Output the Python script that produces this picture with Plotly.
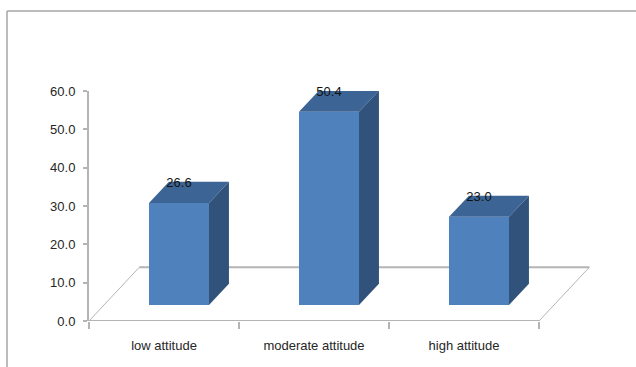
import plotly.graph_objects as go

# Survey result: share of respondents per attitude level
categories = ["low attitude", "moderate attitude", "high attitude"]
values = [26.6, 50.4, 23.0]
value_ticks = [0, 10, 20, 30, 40, 50, 60]

FRONT = "#4f81bd"
TOP = "#3c6595"
SIDE = "#31527b"
AXIS = "#b4b4b4"
FRAME = "#a6a6a6"
TEXT = "#262626"
FONT = "Liberation Sans, sans-serif"

# Pseudo-3D geometry in axis units (one category = 1 on x, value scale on y)
BAR_WIDTH = 0.4
BAR_SHIFT = 0.1
BAR_BASE = 4.2
DEPTH_X = 0.133
DEPTH_Y = 5.5
FLOOR_X = 0.335
FLOOR_Y = 14.0

# Plot area in pixels
WIDTH, HEIGHT = 636, 367
LEFT, TOP_M, PLOT_W, PLOT_H = 89, 91, 507, 230
X_MIN = -0.5
X_MAX = X_MIN + PLOT_W / 150

positions = list(range(len(categories)))
centers = [p + BAR_SHIFT for p in positions]
boundaries = [p - 0.5 for p in positions] + [positions[-1] + 0.5]

fig = go.Figure()

# Front faces
fig.add_trace(go.Bar(
    x=centers, y=values, base=BAR_BASE, width=BAR_WIDTH,
    marker=dict(color=FRONT, line=dict(width=0)), hoverinfo="skip",
))

# Top and side faces, derived from each bar's value
for c, v in zip(centers, values):
    x0, x1 = c - BAR_WIDTH / 2, c + BAR_WIDTH / 2
    y0, y1 = BAR_BASE, BAR_BASE + v
    fig.add_trace(go.Scatter(
        x=[x0, x0 + DEPTH_X, x1 + DEPTH_X, x1, x0],
        y=[y1, y1 + DEPTH_Y, y1 + DEPTH_Y, y1, y1],
        mode="lines", fill="toself", fillcolor=TOP,
        line=dict(width=0), hoverinfo="skip",
    ))
    fig.add_trace(go.Scatter(
        x=[x1, x1 + DEPTH_X, x1 + DEPTH_X, x1, x1],
        y=[y1, y1 + DEPTH_Y, y0 + DEPTH_Y, y0, y1],
        mode="lines", fill="toself", fillcolor=SIDE,
        line=dict(width=0), hoverinfo="skip",
    ))

# Front edge of the floor, doubling as the category axis line
fig.add_trace(go.Scatter(
    x=[boundaries[0], boundaries[-1]], y=[0, 0], mode="lines",
    line=dict(color=AXIS, width=2), cliponaxis=False, hoverinfo="skip",
))

# Value labels sitting on the top faces
fig.add_trace(go.Scatter(
    x=centers, y=[v + BAR_BASE + 5.0 for v in values],
    mode="text", text=[f"{v:.1f}" for v in values],
    textposition="middle center",
    textfont=dict(family=FONT, size=13, color="#111111"),
    cliponaxis=False, hoverinfo="skip",
))

# Floor edges behind the bars
floor_shapes = [
    dict(type="line", layer="below", xref="x", yref="y",
         x0=boundaries[0], y0=0, x1=boundaries[0] + FLOOR_X, y1=FLOOR_Y,
         line=dict(color=AXIS, width=1)),
    dict(type="line", layer="below", xref="x", yref="y",
         x0=boundaries[0] + FLOOR_X, y0=FLOOR_Y, x1=boundaries[-1] + FLOOR_X, y1=FLOOR_Y,
         line=dict(color=AXIS, width=2)),
    dict(type="line", layer="below", xref="x", yref="y",
         x0=boundaries[-1], y0=0, x1=boundaries[-1] + FLOOR_X, y1=FLOOR_Y,
         line=dict(color=AXIS, width=1)),
]

# Chart frame: only its top and left edges fall inside the page
fx = (7 - LEFT) / PLOT_W
fy = 1 + (TOP_M - 11) / PLOT_H
frame_shapes = [
    dict(type="line", xref="paper", yref="paper", x0=fx, y0=fy,
         x1=(WIDTH - LEFT) / PLOT_W, y1=fy, line=dict(color=FRAME, width=1.5)),
    dict(type="line", xref="paper", yref="paper", x0=fx, y0=fy,
         x1=fx, y1=-(HEIGHT - TOP_M - PLOT_H) / PLOT_H, line=dict(color=FRAME, width=1.5)),
]

fig.update_layout(
    width=WIDTH, height=HEIGHT,
    margin=dict(l=LEFT, r=WIDTH - LEFT - PLOT_W, t=TOP_M, b=HEIGHT - TOP_M - PLOT_H, pad=0),
    paper_bgcolor="white", plot_bgcolor="white",
    showlegend=False,
    shapes=floor_shapes + frame_shapes,
    xaxis=dict(
        range=[X_MIN, X_MAX], showgrid=False, zeroline=False, showline=False,
        tickmode="array", tickvals=positions, ticktext=categories,
        ticks="", ticklabelstandoff=15,
        tickfont=dict(family=FONT, size=13, color=TEXT),
        minor=dict(tickmode="array", tickvals=boundaries, ticks="outside",
                   ticklen=7, tickwidth=1.5, tickcolor=AXIS),
    ),
    yaxis=dict(
        range=[0, 60], showgrid=False, zeroline=False, showline=True,
        linecolor=AXIS, linewidth=2,
        tickmode="array", tickvals=value_ticks,
        ticktext=[f"{t:.1f}" for t in value_ticks],
        ticks="outside", ticklen=4, tickwidth=1.5, tickcolor=AXIS,
        ticklabelstandoff=5,
        tickfont=dict(family=FONT, size=13, color=TEXT),
    ),
)

fig.write_html("out.html", config=dict(displayModeBar=False))
